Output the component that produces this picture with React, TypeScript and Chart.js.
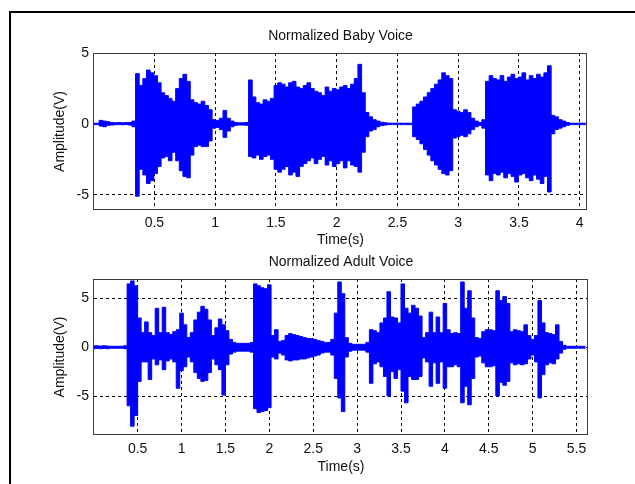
import { useEffect, useRef } from "react";
import { Chart, registerables } from "chart.js";

Chart.register(...registerables);

const FONT = '"Liberation Sans", Arial, Helvetica, sans-serif';
const TEXT = "#111111";

// Baby voice envelope, sampled every 0.03 s from 0 to 4.05 s
const BABY_STEP = 0.03;
const babyUpper = [
  0.05, 0.05, 0.25, 0.2, 0.15, 0.1, 0.08, 0.1, 0.08, 0.1,
  0.1, 0.2, 3.55, 2.7, 3.2, 3.8, 3.6, 3.4, 2.9, 2.2,
  2.0, 1.8, 1.6, 2.5, 3.2, 3.5, 3.0, 1.7, 1.5, 1.4,
  1.6, 1.3, 1.0, 0.3, 0.25, 0.4, 0.95, 0.4, 0.2, 0.1,
  0.08, 0.08, 0.1, 3.1, 1.9, 1.5, 1.4, 1.7, 1.6, 1.8,
  2.7, 2.9, 2.8, 2.6, 2.9, 3.0, 2.6, 2.5, 2.7, 2.9,
  2.5, 2.3, 2.2, 2.0, 2.6, 2.3, 2.5, 2.4, 2.6, 2.7,
  2.5, 2.8, 3.2, 4.2, 2.2, 0.8, 0.5, 0.3, 0.2, 0.12,
  0.08, 0.05, 0.05, 0.05, 0.05, 0.05, 0.05, 0.05, 1.2, 1.4,
  1.6, 1.9, 2.2, 2.5, 2.8, 3.1, 3.6, 3.4, 3.2, 1.0,
  0.9, 0.8, 1.0, 0.8, 0.4, 0.2, 0.1, 0.3, 3.0, 3.4,
  3.2, 3.1, 3.4, 3.0, 3.3, 3.5, 3.2, 3.3, 3.6, 3.1,
  3.4, 3.2, 3.5, 3.3, 3.6, 4.1, 0.6, 0.5, 0.3, 0.2,
  0.1, 0.05, 0.05, 0.05, 0.05, 0.05,
];
const babyLower = [
  -0.05, -0.05, -0.15, -0.2, -0.1, -0.08, -0.06, -0.05, -0.06, -0.05,
  -0.08, -0.2, -5.1, -3.2, -3.6, -4.2, -4.0, -3.5, -3.0, -2.4,
  -2.3, -2.6, -2.0, -2.6, -3.3, -3.7, -3.8, -2.2, -1.6, -1.5,
  -1.6, -1.6, -1.2, -0.3, -0.25, -0.4, -0.95, -0.5, -0.2, -0.1,
  -0.08, -0.08, -0.1, -2.3, -2.4, -2.2, -2.5, -2.3, -2.2, -2.5,
  -3.2, -3.4, -3.2, -3.0, -3.6, -3.4, -3.7, -3.0, -2.8, -2.6,
  -2.4, -2.8, -2.5, -2.3, -2.9, -2.6, -3.0, -2.8, -2.6, -3.1,
  -2.6, -2.9, -3.0, -3.4, -2.0, -0.9, -0.5, -0.4, -0.2, -0.12,
  -0.08, -0.05, -0.05, -0.05, -0.05, -0.05, -0.05, -0.05, -0.9, -1.1,
  -1.4, -1.8, -2.2, -2.6, -2.9, -3.2, -3.5, -3.6, -3.3, -1.0,
  -0.9, -0.8, -0.9, -0.7, -0.4, -0.2, -0.1, -0.3, -3.6, -4.0,
  -3.5, -3.6, -3.4, -3.8, -3.5, -3.7, -4.1, -3.6, -3.5, -3.8,
  -4.0, -3.6, -3.9, -4.2, -3.7, -4.8, -0.7, -0.4, -0.3, -0.2,
  -0.1, -0.05, -0.05, -0.05, -0.05, -0.05,
];

// Adult voice envelope, sampled every 0.04 s from 0 to 5.6 s
const ADULT_STEP = 0.04;
const adultUpper = [
  0.15, 0.15, 0.12, 0.15, 0.12, 0.1, 0.1, 0.1, 0.1, 0.15,
  6.5, 6.8, 6.3, 3.0, 1.5, 2.6, 1.5, 1.2, 4.0, 1.5,
  4.1, 1.5, 1.3, 1.6, 1.8, 3.5, 2.3, 1.0, 1.5, 2.8,
  3.6, 4.2, 3.9, 2.8, 1.2, 2.0, 2.9, 2.3, 1.7, 0.8,
  0.5, 0.4, 0.4, 0.4, 0.4, 0.5, 6.5, 6.3, 6.1, 6.0,
  6.4, 1.2, 1.8, 0.6, 0.7, 1.2, 1.4, 1.3, 1.2, 1.1,
  1.0, 0.9, 0.9, 0.8, 0.7, 0.6, 0.5, 0.5, 0.8, 3.5,
  6.7, 5.5, 1.0, 0.4, 0.3, 0.3, 0.3, 0.3, 0.5, 1.8,
  1.7, 1.5, 2.5, 3.0, 5.7, 3.1, 3.0, 2.5, 6.5, 4.0,
  3.5, 4.3, 4.0, 3.2, 1.0, 1.5, 3.6, 1.5, 3.1, 1.5,
  4.5, 1.8, 1.4, 1.5, 1.4, 6.7, 4.0, 5.8, 3.0, 1.0,
  0.9, 1.6, 1.8, 1.8, 1.7, 5.8, 4.8, 5.2, 4.5, 1.6,
  1.8, 1.7, 1.6, 2.3, 1.2, 0.8, 1.2, 4.8, 2.5, 1.5,
  1.4, 1.3, 2.3, 0.6, 0.2, 0.1, 0.1, 0.1, 0.1, 0.1,
  0.1,
];
const adultLower = [
  -0.15, -0.12, -0.15, -0.12, -0.15, -0.1, -0.1, -0.1, -0.1, -0.15,
  -6.0, -8.1, -7.0, -3.5, -1.5, -1.5, -3.3, -1.2, -1.8, -1.3,
  -2.3, -1.4, -1.2, -1.5, -4.2, -2.4, -2.0, -1.0, -1.5, -2.6,
  -3.2, -3.5, -3.4, -2.6, -1.2, -1.8, -2.3, -4.9, -1.8, -0.7,
  -0.5, -0.4, -0.4, -0.4, -0.4, -0.5, -6.3, -6.7, -6.6, -6.5,
  -6.2, -1.0, -1.2, -0.6, -0.8, -1.3, -1.4, -1.3, -1.3, -1.2,
  -1.2, -1.1, -1.0, -0.9, -0.8, -0.6, -0.5, -0.5, -0.8, -3.2,
  -5.2, -6.6, -1.0, -0.4, -0.3, -0.3, -0.3, -0.3, -0.5, -3.7,
  -1.7, -1.5, -2.0, -3.0, -5.0, -2.5, -3.2, -2.3, -4.5, -5.7,
  -3.0, -3.3, -3.3, -3.0, -1.1, -1.5, -4.0, -1.6, -3.7, -1.5,
  -4.2, -2.0, -2.0, -1.8, -2.0, -5.7, -4.0, -5.9, -3.2, -1.0,
  -0.9, -1.6, -2.0, -2.0, -1.9, -5.0, -3.6, -3.9, -3.5, -1.6,
  -1.8, -1.7, -1.8, -1.7, -1.2, -0.8, -1.5, -5.2, -2.8, -1.8,
  -1.6, -1.7, -1.2, -0.6, -0.2, -0.1, -0.1, -0.1, -0.1, -0.1,
  -0.1,
];

const babyTitle = "Normalized Baby Voice";
const adultTitle = "Normalized Adult Voice";
const xLabel = "Time(s)";
const yLabel = "Amplitude(V)";

const framePlugin = {
  id: "frame",
  afterDatasetsDraw(chart: any, _args: any, opts: any) {
    const { ctx, chartArea: a } = chart;
    ctx.save();
    ctx.strokeStyle = "#3c3c3c";
    ctx.lineWidth = 1;
    const l = Math.round(a.left) - 0.5;
    const t = Math.round(a.top) + 0.5;
    const r = Math.round(a.right) - 0.5;
    const b = Math.round(a.bottom) - 0.5;
    ctx.strokeRect(l, t, r - l, b - t);
    ctx.fillStyle = TEXT;
    ctx.font = `14px ${FONT}`;
    ctx.textAlign = "center";
    ctx.textBaseline = "middle";
    ctx.fillText(opts.title, (a.left + a.right) / 2, opts.titleY);
    ctx.restore();
  },
};

type PanelProps = {
  upper: number[];
  lower: number[];
  step: number;
  title: string;
  titleY: number;
  xMin: number;
  xMax: number;
  yMin: number;
  yMax: number;
  padTop: number;
  padRight: number;
  xAxisH: number;
  xTickPad: number;
  xTitlePad: number;
  width: number;
  height: number;
  top: number;
};

function Panel(p: PanelProps) {
  const ref = useRef<HTMLCanvasElement>(null);
  useEffect(() => {
    if (!ref.current) return;
    const up = p.upper.map((v, i) => ({ x: i * p.step, y: v }));
    const lo = p.lower.map((v, i) => ({ x: i * p.step, y: v }));
    const font = { family: FONT, size: 14 };
    const chart = new Chart(ref.current, {
      type: "line",
      data: {
        datasets: [
          {
            data: up,
            borderColor: "#0000ff",
            backgroundColor: "#0000ff",
            borderWidth: 1,
            pointRadius: 0,
            stepped: "middle",
            fill: "+1",
          },
          {
            data: lo,
            borderColor: "#0000ff",
            backgroundColor: "#0000ff",
            borderWidth: 1,
            pointRadius: 0,
            stepped: "middle",
            fill: false,
          },
        ],
      },
      options: {
        animation: false,
        responsive: false,
        devicePixelRatio: 1,
        layout: { padding: { left: 0, top: p.padTop, right: p.padRight, bottom: 0 } },
        plugins: {
          legend: { display: false },
          tooltip: { enabled: false },
          title: { display: false },
          frame: { title: p.title, titleY: p.titleY },
        } as any,
        scales: {
          x: {
            type: "linear",
            min: p.xMin,
            max: p.xMax,
            ticks: {
              stepSize: 0.5,
              includeBounds: false,
              autoSkip: false,
              maxRotation: 0,
              padding: p.xTickPad,
              color: TEXT,
              font,
              callback: (v: any) => String(v),
            },
            grid: { color: "#000000", lineWidth: 1, drawTicks: false },
            border: { display: false, dash: [3, 3] },
            title: {
              display: true,
              text: xLabel,
              color: TEXT,
              font,
              padding: { top: 0, bottom: p.xTitlePad },
            },
            afterFit: (s: any) => {
              s.height = p.xAxisH;
            },
          },
          y: {
            type: "linear",
            min: p.yMin,
            max: p.yMax,
            ticks: {
              stepSize: 5,
              includeBounds: false,
              padding: 5,
              color: TEXT,
              font,
              callback: (v: any) => String(v),
            },
            grid: { color: "#000000", lineWidth: 1, drawTicks: false },
            border: { display: false, dash: [3, 3] },
            title: {
              display: true,
              text: yLabel,
              color: TEXT,
              font,
              padding: { top: 51.6, bottom: 0 },
            },
            afterFit: (s: any) => {
              s.width = 94;
            },
          },
        },
      },
      plugins: [framePlugin as any],
    });
    return () => chart.destroy();
  }, []);
  return (
    <canvas
      ref={ref}
      width={p.width}
      height={p.height}
      style={{ position: "absolute", left: 0, top: p.top, width: p.width, height: p.height }}
    />
  );
}

export default function App() {
  return (
    <div
      style={{
        position: "fixed",
        left: 0,
        top: 0,
        width: 635,
        height: 484,
        overflow: "hidden",
        background: "#ffffff",
      }}
    >
      <div
        style={{
          position: "absolute",
          left: 9,
          top: 11,
          width: 700,
          height: 600,
          borderLeft: "2px solid #000",
          borderTop: "2px solid #000",
        }}
      />
      <Panel
        upper={babyUpper}
        lower={babyLower}
        step={BABY_STEP}
        title={babyTitle}
        titleY={36}
        xMin={0.003}
        xMax={4.06}
        yMin={-6.07}
        yMax={5}
        padTop={53}
        padRight={48}
        xAxisH={40}
        xTickPad={5}
        xTitlePad={1.6}
        width={635}
        height={250}
        top={0}
      />
      <Panel
        upper={adultUpper}
        lower={adultLower}
        step={ADULT_STEP}
        title={adultTitle}
        titleY={12.5}
        xMin={0.003}
        xMax={5.63}
        yMin={-9}
        yMax={7}
        padTop={29}
        padRight={47}
        xAxisH={49}
        xTickPad={6}
        xTitlePad={8.6}
        width={635}
        height={234}
        top={250}
      />
    </div>
  );
}
